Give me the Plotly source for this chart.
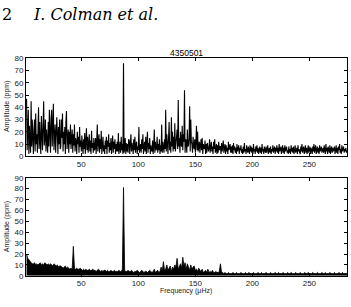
import plotly.graph_objects as go

# ---------------- data ----------------
# top panel: amplitude spectrum sampled every 0.5 μHz from 2 to 283 μHz
top_amp = [
    47, 5, 20, 38, 2, 25, 12, 3, 45, 8, 30, 14, 2, 22, 30, 4, 35, 10, 18, 3,
    15, 40, 6, 28, 12, 2, 33, 20, 5, 25, 45, 9, 15, 30, 4, 22, 12, 3, 28, 8,
    38, 14, 3, 30, 38, 8, 20, 43, 5, 16, 26, 3, 12, 32, 18, 2, 24, 10, 30, 6,
    8, 30, 15, 35, 4, 20, 10, 24, 2, 28, 37, 6, 15, 22, 3, 20, 10, 26, 6, 14,
    22, 3, 18, 9, 26, 4, 15, 12, 2, 20, 10, 16, 3, 24, 8, 13, 4, 17, 9, 2,
    14, 6, 19, 2, 12, 23, 5, 16, 3, 10, 18, 4, 13, 2, 21, 7, 11, 3, 15, 5,
    7, 15, 2, 12, 26, 4, 9, 18, 3, 14, 6, 21, 2, 11, 16, 4, 9, 2, 13, 6,
    16, 2, 13, 8, 18, 3, 11, 5, 15, 2, 9, 17, 3, 12, 6, 14, 2, 10, 4, 12,
    4, 19, 2, 8, 12, 3, 16, 5, 10, 2, 76, 3, 6, 15, 2, 11, 4, 10, 3, 14,
    13, 2, 8, 18, 4, 11, 7, 2, 14, 5, 16, 3, 9, 12, 2, 8, 5, 24, 3, 10,
    10, 3, 14, 6, 18, 2, 9, 12, 4, 16, 2, 8, 20, 3, 11, 6, 15, 2, 9, 5,
    4, 13, 2, 9, 22, 3, 12, 5, 7, 16, 3, 10, 5, 14, 2, 9, 4, 26, 3, 12,
    9, 3, 14, 6, 38, 4, 18, 8, 2, 15, 28, 5, 12, 3, 32, 8, 20, 4, 16, 6,
    27, 4, 10, 18, 22, 6, 46, 8, 15, 3, 20, 10, 8, 25, 5, 18, 12, 54, 3, 14,
    12, 3, 22, 8, 9, 15, 41, 4, 30, 12, 10, 3, 16, 8, 6, 14, 3, 12, 25, 5,
    20, 4, 8, 12, 3, 9, 14, 5, 15, 2, 10, 7, 6, 13, 2, 10, 3, 11, 6, 4,
    7, 14, 3, 9, 12, 4, 8, 2, 12, 6, 14, 3, 5, 10, 2, 9, 3, 12, 5, 8,
    8, 2, 11, 4, 9, 13, 3, 6, 10, 2, 9, 4, 7, 2, 12, 5, 7, 10, 3, 8,
    3, 9, 2, 11, 5, 8, 3, 7, 2, 10, 4, 6, 9, 2, 7, 5, 9, 3, 6, 2,
    8, 3, 11, 4, 6, 2, 9, 5, 3, 8, 6, 2, 9, 4, 8, 3, 7, 2, 10, 4,
    6, 2, 8, 4, 9, 3, 7, 2, 5, 8, 3, 7, 2, 10, 4, 6, 2, 8, 5, 3,
    8, 3, 6, 9, 2, 5, 7, 3, 8, 2, 6, 4, 9, 3, 5, 8, 2, 7, 4, 9,
    3, 7, 2, 10, 4, 6, 8, 2, 5, 9, 3, 7, 2, 9, 4, 6, 8, 3, 5, 2,
    8, 3, 6, 2, 9, 4, 7, 3, 8, 2, 6, 9, 3, 5, 7, 2, 9, 4, 6, 3,
    2, 8, 4, 10, 3, 6, 8, 2, 5, 9, 3, 7, 2, 6, 9, 3, 5, 8, 2, 7,
    5, 2, 8, 4, 10, 3, 6, 9, 2, 5, 8, 3, 7, 2, 9, 4, 6, 8, 3, 5,
    7, 3, 9, 5, 2, 10, 4, 7, 2, 8, 5, 3, 9, 2, 6, 8, 3, 7, 4, 6,
    8, 2, 6, 9, 3, 7, 2, 8, 5, 10, 3, 6, 2, 9, 4, 7, 8, 3, 6, 4,
    7, 3, 5,
]
top_freq = [2 + 0.5 * i for i in range(len(top_amp))]  # μHz grid

# bottom panel: amplitude spectrum sampled every 1 μHz from 2 to 283 μHz
bot_amp = [
    20, 16, 15, 13, 12, 11, 11, 12, 10, 11,
    10, 11, 12, 10, 11, 10, 12, 11, 10, 11,
    10, 11, 10, 9, 11, 10, 9, 10, 8, 9,
    9, 8, 7, 8, 9, 7, 8, 7, 6, 7,
    6, 27, 7, 6, 7, 6, 6, 7, 6, 5,
    6, 5, 6, 5, 5, 6, 5, 5, 6, 5,
    5, 4, 5, 6, 5, 4, 5, 4, 5, 5,
    4, 5, 4, 4, 5, 4, 4, 5, 4, 4,
    4, 5, 4, 4, 6, 81, 5, 4, 4, 5,
    4, 4, 5, 4, 3, 4, 4, 5, 4, 3,
    4, 5, 4, 3, 4, 4, 3, 4, 5, 4,
    3, 4, 6, 3, 4, 5, 3, 4, 8, 4,
    13, 5, 6, 10, 5, 7, 9, 4, 8, 6,
    10, 8, 16, 6, 9, 11, 7, 17, 9, 12,
    6, 11, 8, 5, 10, 6, 8, 9, 5, 6,
    4, 7, 5, 4, 6, 3, 4, 5, 3, 6,
    3, 4, 3, 5, 3, 3, 4, 3, 3, 4,
    11, 3, 3, 2, 3, 2, 2, 3, 2, 2,
    2, 3, 2, 2, 3, 2, 2, 2, 3, 2,
    2, 2, 3, 2, 2, 3, 2, 2, 2, 3,
    2, 2, 2, 3, 2, 2, 3, 2, 2, 2,
    3, 2, 2, 2, 3, 2, 2, 2, 3, 2,
    2, 3, 2, 2, 2, 3, 2, 2, 2, 3,
    2, 2, 3, 2, 2, 2, 3, 2, 2, 2,
    3, 2, 2, 2, 3, 2, 2, 3, 2, 2,
    2, 3, 2, 2, 2, 3, 2, 2, 2, 3,
    2, 2, 3, 2, 2, 2, 3, 2, 2, 2,
    3, 2, 2, 2, 3, 2, 2, 3, 2, 2,
    2, 2,
]
bot_freq = [2 + i for i in range(len(bot_amp))]  # μHz grid

x_ticks = [50, 100, 150, 200, 250]
top_y_ticks = [0, 10, 20, 30, 40, 50, 60, 70, 80]
bot_y_ticks = [0, 10, 20, 30, 40, 50, 60, 70, 80, 90]

title_text = "4350501"
header_page = "2"
header_text = "I. Colman et al."
ylabel = "Amplitude (ppm)"
xlabel = "Frequency (μHz)"

# ---------------- figure ----------------
W, H = 351, 307
def px_x(p):
    return p / W
def px_y(p):
    return 1 - p / H

xdom = [px_x(26), px_x(347)]
top_dom = [px_y(157), px_y(56)]
bot_dom = [px_y(280), px_y(179)]

fig = go.Figure()
fig.add_trace(go.Scatter(x=top_freq, y=top_amp, mode="lines",
                         line=dict(color="black", width=1.1),
                         xaxis="x", yaxis="y", showlegend=False))
fig.add_trace(go.Scatter(x=bot_freq, y=bot_amp, mode="lines",
                         line=dict(color="black", width=0.8),
                         fill="tozeroy", fillcolor="black",
                         xaxis="x2", yaxis="y2", showlegend=False))

tickfont = dict(family="Liberation Sans, Arial, sans-serif", size=8, color="#222")
axis_common = dict(showline=True, linecolor="black", linewidth=1, mirror="ticks",
                   ticks="inside", ticklen=3, tickcolor="black", tickwidth=1,
                   showgrid=False, zeroline=False, tickfont=tickfont)

xr = [1.5, 283]
fig.update_layout(
    width=W, height=H,
    margin=dict(l=0, r=0, t=0, b=0),
    paper_bgcolor="white", plot_bgcolor="white",
    xaxis=dict(domain=xdom, range=xr, tickvals=x_ticks, anchor="y", **axis_common),
    yaxis=dict(domain=top_dom, range=[0, 80], tickvals=top_y_ticks, anchor="x", **axis_common),
    xaxis2=dict(domain=xdom, range=xr, tickvals=x_ticks, anchor="y2", **axis_common),
    yaxis2=dict(domain=bot_dom, range=[0, 90], tickvals=bot_y_ticks, anchor="x2", **axis_common),
)

label_font = dict(family="Liberation Sans, Arial, sans-serif", size=7, color="#222")
header_font = dict(family="DejaVu Serif, serif", size=16, color="black")
ann = [
    dict(text=title_text, x=px_x(186.5), y=px_y(50), xref="paper", yref="paper",
         showarrow=False, xanchor="center", yanchor="middle",
         font=dict(family="Liberation Sans, Arial, sans-serif", size=8.5, color="black")),
    dict(text=header_page, x=0, y=px_y(11), xref="paper", yref="paper",
         showarrow=False, xanchor="left", yanchor="middle", font=header_font),
    dict(text="<i>" + header_text + "</i>", x=px_x(31), y=px_y(11), xref="paper", yref="paper",
         showarrow=False, xanchor="left", yanchor="middle", font=header_font),
    dict(text=ylabel, x=px_x(7), y=px_y(106), xref="paper", yref="paper",
         showarrow=False, xanchor="center", yanchor="middle", textangle=-90, font=label_font),
    dict(text=ylabel, x=px_x(7), y=px_y(230), xref="paper", yref="paper",
         showarrow=False, xanchor="center", yanchor="middle", textangle=-90, font=label_font),
    dict(text=xlabel, x=px_x(186), y=px_y(296), xref="paper", yref="paper",
         showarrow=False, xanchor="center", yanchor="middle", font=label_font),
]
fig.update_layout(annotations=ann)

fig.write_html("out.html")
